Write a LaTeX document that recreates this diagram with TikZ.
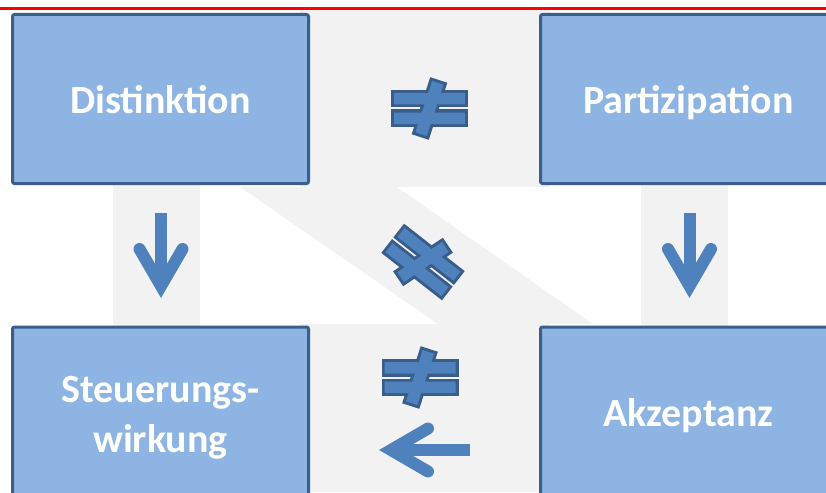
\documentclass[tikz,border=0pt]{standalone}
\usepackage{fontspec}
\setmainfont{Carlito}
\usetikzlibrary{calc}
\definecolor{boxfill}{HTML}{8DB4E2}
\definecolor{boxline}{HTML}{3A5F8B}
\definecolor{bandgray}{HTML}{F2F2F2}
\definecolor{symfill}{HTML}{4F81BD}
\definecolor{symline}{HTML}{385D8A}
\tikzset{
  box/.style={draw=boxline, line width=3pt, fill=boxfill, rounded corners=2pt,
    minimum width=296pt, minimum height=169pt, inner sep=0pt, text=white,
    font=\fontsize{40}{50}\selectfont\bfseries, align=center},
  oneline/.style={text height=34pt, text depth=5pt},
  twoline/.style={text height=84pt, text depth=3pt},
  band/.style={fill=bandgray},
  arrowshaft/.style={draw=symfill, line width=12pt, line cap=butt},
  arrowhead/.style={draw=symfill, line width=12pt, line cap=round, line join=miter},
  noteq/.pic={
    \begin{scope}[line join=miter]
      \draw[symline, line width=6pt] (-35.5,-15.5) rectangle (35.5,-4) (-35.5,4) rectangle (35.5,15.5);
      \draw[symline, line width=6pt, rotate=-18] (-6,-27) rectangle (6,27);
      \fill[symfill] (-35.5,-15.5) rectangle (35.5,-4) (-35.5,4) rectangle (35.5,15.5);
      \fill[symfill, rotate=-18] (-6,-27) rectangle (6,27);
    \end{scope}
  }
}
\begin{document}
\begin{tikzpicture}[x=1pt, y=-1pt]
  \useasboundingbox (0,0) rectangle (826,492);
  \clip (0,0) rectangle (826,492);

  % light grey bands linking the four boxes
  \path[band] (300,10) rectangle (550,187);
  \path[band] (300,324) rectangle (550,492);
  \path[band] (113,180) rectangle (200,330);
  \path[band] (641,180) rectangle (728,330);
  \path[band] (240,187) -- (397,187) -- (593,324) -- (438,324) -- cycle;

  % red rule along the top
  \draw[red, line width=3pt] (0,8.2) -- (826,8.2);

  % the four boxes
  \node[box, oneline] (dist) at (160.5,99) {Distinktion};
  \node[box, oneline] (part) at (688.5,99) {Partizipation};
  \node[box, twoline] (steu) at (160.5,411.5) {Steuerungs-\\wirkung};
  \node[box, oneline] (akz) at (688.5,411.5) {Akzeptanz};

  % not-equal signs between the boxes
  \pic at (429.5,108.5) {noteq};
  \pic[rotate=-38] at (423,262) {noteq};
  \pic at (420,377.5) {noteq};

  % arrow ends
  \coordinate (d1) at (161,213);
  \coordinate (d2) at (161,286);
  \coordinate (p1) at (689.5,213);
  \coordinate (p2) at (689.5,286);
  \coordinate (a1) at (470,450);
  \coordinate (a2) at (391,450);

  % Distinktion -> Steuerungswirkung
  \draw[arrowshaft] (d1) -- (d2);
  \draw[arrowhead] ($(d2)+(-21.5,-37)$) -- (d2) -- ($(d2)+(21.5,-37)$);
  % Partizipation -> Akzeptanz
  \draw[arrowshaft] (p1) -- (p2);
  \draw[arrowhead] ($(p2)+(-21.5,-37)$) -- (p2) -- ($(p2)+(21.5,-37)$);
  % Akzeptanz -> Steuerungswirkung
  \draw[arrowshaft] (a1) -- (a2);
  \draw[arrowhead] ($(a2)+(37,-21.5)$) -- (a2) -- ($(a2)+(37,21.5)$);
\end{tikzpicture}
\end{document}
